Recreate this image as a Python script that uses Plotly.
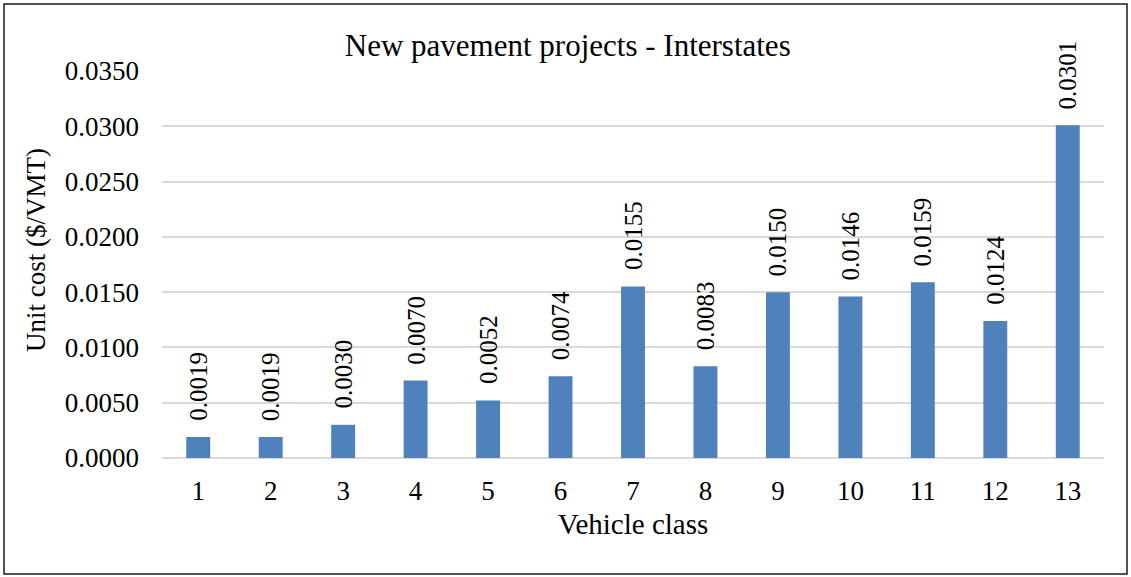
import plotly.graph_objects as go

# Valores
vehicle_class = [str(i) for i in range(1, 14)]
unit_cost = [0.0019, 0.0019, 0.0030, 0.0070, 0.0052, 0.0074, 0.0155,
             0.0083, 0.0150, 0.0146, 0.0159, 0.0124, 0.0301]
y_ticks = [0.0, 0.005, 0.010, 0.015, 0.020, 0.025, 0.030, 0.035]

BAR_COLOR = "#4F81BD"
GRID_COLOR = "#D9D9D9"
FONT = "Liberation Serif, Times New Roman, serif"

W, H = 1131, 577
ML, MR, MT, MB = 162, 27, 71, 119
PW, PH = W - ML - MR, H - MT - MB

fig = go.Figure(
    go.Bar(
        x=vehicle_class,
        y=unit_cost,
        width=0.33,
        marker=dict(color=BAR_COLOR, line=dict(width=0)),
        hoverinfo="x+y",
    )
)

# rótulos de valor, girados, um pouco acima de cada barra
# (x pelo índice da categoria, para o eixo categórico não confundir "1" com posição 1)
for i, v in enumerate(unit_cost):
    fig.add_annotation(
        x=i, y=v, text=f"{v:.4f}",
        textangle=-90,
        xanchor="center", yanchor="bottom",
        yshift=14,
        showarrow=False,
        font=dict(family=FONT, size=25, color="black"),
    )

# título do eixo y como anotação (no original fica um pouco acima do centro)
fig.add_annotation(
    xref="paper", yref="paper",
    x=(36 - ML) / PW, y=(H - MB - 250) / PH,
    text="Unit cost ($/VMT)",
    textangle=-90,
    xanchor="center", yanchor="middle",
    showarrow=False,
    font=dict(family=FONT, size=27, color="black"),
)

# moldura externa do gráfico
fig.add_shape(
    type="rect",
    xref="paper", yref="paper",
    x0=(4 - ML) / PW, x1=(W - 4 - ML) / PW,
    y0=-(H - 3 - MT - PH) / PH, y1=1 + (MT - 4) / PH,
    line=dict(color="#1a1a1a", width=1.5),
    fillcolor="rgba(0,0,0,0)",
    layer="below",
)

fig.update_layout(
    width=W,
    height=H,
    paper_bgcolor="white",
    plot_bgcolor="white",
    font=dict(family=FONT, size=27, color="black"),
    margin=dict(l=ML, r=MR, t=MT, b=MB, autoexpand=False),
    title=dict(
        text="New pavement projects - Interstates",
        x=0.502, xanchor="center",
        y=1 - 45 / H, yanchor="middle",
        font=dict(family=FONT, size=31, color="black"),
    ),
    showlegend=False,
    bargap=0.67,
)
fig.update_xaxes(
    title=dict(text="Vehicle class", standoff=8, font=dict(size=29)),
    showgrid=False,
    showline=False,
    ticks="",
    ticklabelstandoff=14,
    tickfont=dict(size=27),
)
fig.update_yaxes(
    range=[0, 0.035],
    tickvals=y_ticks,
    ticktext=[f"{v:.4f}" for v in y_ticks],
    gridcolor=GRID_COLOR,
    gridwidth=1.5,
    zeroline=True,
    zerolinecolor=GRID_COLOR,
    zerolinewidth=1.5,
    showline=False,
    ticks="",
    ticklabelstandoff=22,
    tickfont=dict(size=27),
)

fig.write_html(
    "out.html",
    config={"displayModeBar": False},
    post_script="document.body.style.margin='0';document.body.style.overflow='hidden';",
)
